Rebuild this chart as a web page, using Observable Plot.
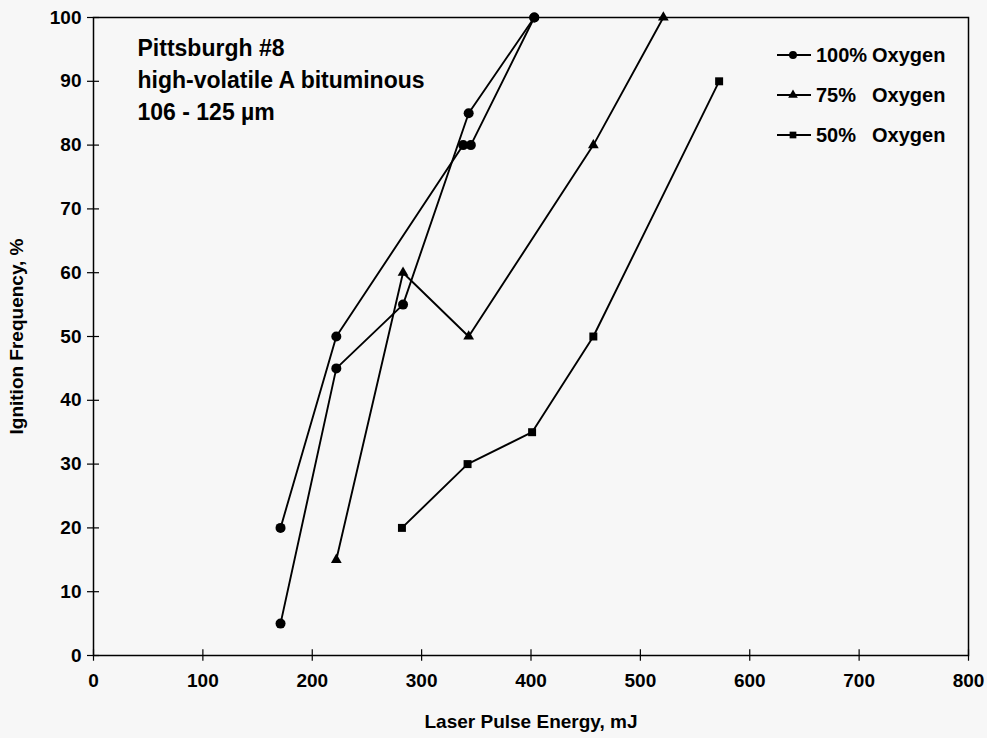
<!DOCTYPE html>
<html>
<head>
<meta charset="utf-8">
<script src="https://cdn.jsdelivr.net/npm/d3@7"></script>
<script src="https://cdn.jsdelivr.net/npm/@observablehq/plot@0.6"></script>
<style>
  html, body { margin: 0; padding: 0; background: #f7f7f7; }
  #wrap { position: relative; width: 987px; height: 738px; }
  #legend { position: absolute; left: 776px; top: 45px; font-family: "Liberation Sans", Arial, sans-serif; font-weight: bold; font-size: 20px; color: #000; }
  .row { display: flex; align-items: center; height: 20px; margin-bottom: 20px; }
  .row svg { width: 36px; height: 14px; margin-right: 4px; }
  .pct { display: inline-block; width: 56px; }
</style>
</head>
<body>
<div id="wrap"><div id="legend"></div></div>
<script>
// ---- data ----
const seriesNames = ["100% Oxygen", "75% Oxygen", "50% Oxygen"];
const legendPct = ["100%", "75%", "50%"];

// 100% oxygen, run A
const o100aX = [171, 222, 338, 345, 403];
const o100aY = [20, 50, 80, 80, 100];
// 100% oxygen, run B
const o100bX = [171, 222, 283, 343, 403];
const o100bY = [5, 45, 55, 85, 100];
// 75% oxygen
const o75X = [222, 283, 343, 457, 521];
const o75Y = [15, 60, 50, 80, 100];
// 50% oxygen
const o50X = [282, 342, 401, 457, 572];
const o50Y = [20, 30, 35, 50, 90];

const xTicks = [0, 100, 200, 300, 400, 500, 600, 700, 800];
const yTicks = [0, 10, 20, 30, 40, 50, 60, 70, 80, 90, 100];

const noteText = "Pittsburgh #8\nhigh-volatile A bituminous\n106 - 125 \u00b5m";

// ---- build table ----
function rows(xs, ys, series, run) {
  return xs.map((x, i) => ({x, y: ys[i], series, run}));
}
const c100 = [...rows(o100aX, o100aY, seriesNames[0], "a"), ...rows(o100bX, o100bY, seriesNames[0], "b")];
const c75 = rows(o75X, o75Y, seriesNames[1], "c");
const c50 = rows(o50X, o50Y, seriesNames[2], "d");
const all = [...c100, ...c75, ...c50];

const font = "'Liberation Sans', Arial, sans-serif";

const chart = Plot.plot({
  width: 987,
  height: 738,
  marginLeft: 93,
  marginRight: 19,
  marginTop: 17,
  marginBottom: 83,
  style: {fontFamily: font, fontWeight: "bold", fontSize: "19px", background: "#f7f7f7", color: "#000"},
  x: {domain: [0, 800]},
  y: {domain: [0, 100]},
  marks: [
    Plot.frame({stroke: "#000", strokeWidth: 1.5}),
    Plot.ruleY(yTicks, {y: d => d, x1: -5.5, x2: 5.5, stroke: "#000", strokeWidth: 1.2}),
    Plot.ruleX(xTicks, {x: d => d, y1: -0.9, y2: 0.9, stroke: "#000", strokeWidth: 1.2}),
    Plot.axisX({ticks: xTicks, tickSize: 0, tickPadding: 18, tickFormat: d => String(d),
      label: "Laser Pulse Energy, mJ", labelAnchor: "center", labelArrow: "none", labelOffset: 72}),
    Plot.axisY({ticks: yTicks, tickSize: 0, tickPadding: 12, tickFormat: d => String(d),
      label: "Ignition Frequency, %", labelAnchor: "center", labelArrow: "none", labelOffset: 84}),
    Plot.line(all, {x: "x", y: "y", z: "run", stroke: "#000", strokeWidth: 1.9}),
    Plot.dot(c100, {x: "x", y: "y", symbol: "circle", fill: "#000", r: 5}),
    Plot.dot(c75, {x: "x", y: "y", symbol: "triangle", fill: "#000", r: 4}),
    Plot.dot(c50, {x: "x", y: "y", symbol: "square", fill: "#000", r: 4.5}),
    Plot.text([noteText], {text: d => d, frameAnchor: "top-left", dx: 44, dy: 16, textAnchor: "start",
      lineAnchor: "top", lineHeight: 1.38, fontSize: 23, fontWeight: "bold", fill: "#000"})
  ]
});
document.getElementById("wrap").prepend(chart);

// ---- legend ----
const legend = d3.select("#legend");
const shapes = [d3.symbolCircle, d3.symbolTriangle, d3.symbolSquare];
const sizes = [50, 40, 45];
seriesNames.forEach((name, i) => {
  const row = legend.append("div").attr("class", "row");
  const svg = row.append("svg");
  svg.append("line").attr("x1", 1).attr("x2", 35).attr("y1", 7).attr("y2", 7).attr("stroke", "#000").attr("stroke-width", 1.8);
  svg.append("path").attr("transform", "translate(17,7)").attr("d", d3.symbol(shapes[i], sizes[i])()).attr("fill", "#000");
  row.append("span").attr("class", "pct").text(legendPct[i]);
  row.append("span").text("Oxygen");
});
</script>
</body>
</html>
